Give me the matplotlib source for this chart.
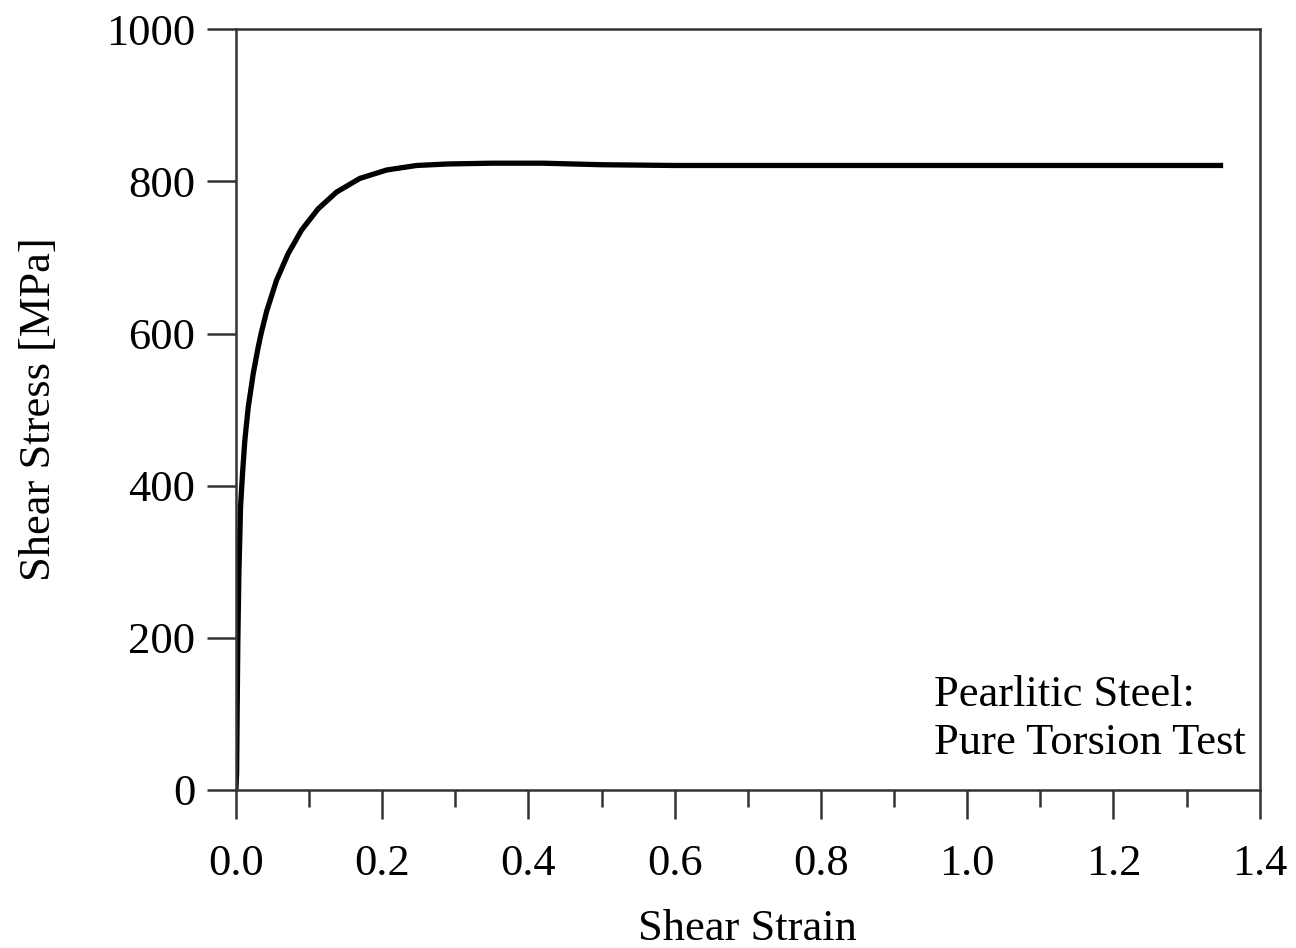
import numpy as np
import matplotlib.pyplot as plt
from matplotlib.ticker import MultipleLocator

# shear strain / shear stress
strain = [0.0, 0.001, 0.0018, 0.0027, 0.0041, 0.0064, 0.0091, 0.0123, 0.0169, 0.0237,
          0.0305, 0.035, 0.042, 0.0556, 0.0715, 0.0898, 0.1125, 0.1377, 0.1695, 0.206,
          0.247, 0.29, 0.35, 0.42, 0.5, 0.6, 0.8, 1.0, 1.2, 1.35]
stress = [0, 21, 109, 196, 284, 372, 416, 460, 503, 547,
          582, 602, 629, 670, 705, 736, 764, 786, 804, 815,
          821, 823, 824, 824, 822, 821, 821, 821, 821, 821]

plt.rcParams['font.family'] = ['Liberation Serif', 'DejaVu Serif']

fig = plt.figure(figsize=(12.96, 9.48), dpi=100)
ax = fig.add_axes([0.182, 0.167, 0.79, 0.802])

ax.plot(strain, stress, color='black', lw=3.8, solid_joinstyle='round',
        solid_capstyle='butt')

ax.set_xlim(0, 1.4)
ax.set_ylim(0, 1000)
ax.xaxis.set_minor_locator(MultipleLocator(0.1))
ax.yaxis.set_major_locator(MultipleLocator(200))
ax.set_xticks(np.arange(0, 1.41, 0.2))
ax.set_xticklabels([f"{v:.1f}" for v in np.arange(0, 1.41, 0.2)])

for s in ax.spines.values():
    s.set_linewidth(1.8)
    s.set_color('#333333')
ax.tick_params(which='major', direction='out', length=21, width=1.8, color='#333333',
               labelsize=32, pad=18)
ax.tick_params(which='minor', direction='out', length=12, width=1.8, color='#333333')
ax.tick_params(axis='y', which='minor', left=False)
ax.tick_params(axis='y', pad=8)

ax.set_xlabel('Shear Strain', fontsize=32, labelpad=18)
ax.set_ylabel('Shear Stress [MPa]', fontsize=32, labelpad=34)

ax.text(0.682, 0.093, 'Pearlitic Steel:\nPure Torsion Test', transform=ax.transAxes,
        fontsize=32, ha='left', va='center', linespacing=1.28)

plt.savefig('out.png', dpi=100)
